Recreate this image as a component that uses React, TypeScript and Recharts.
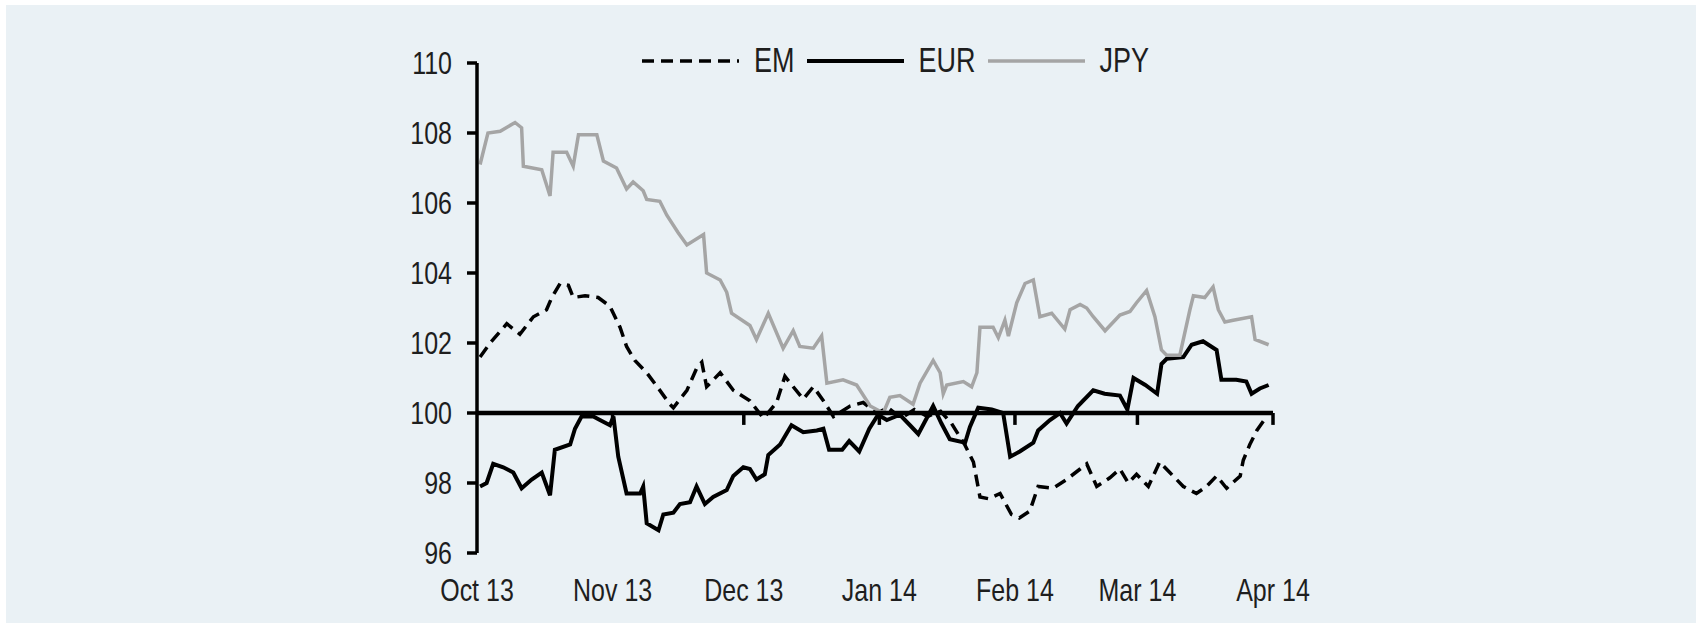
import { LineChart, Line, XAxis, YAxis, ReferenceLine } from 'recharts'

// days since 1 Oct 2013, index level
const jpyPoints: [number, number][] = [
  [0.7, 107.1], [2.5, 108.0], [5.3, 108.05], [8.7, 108.3], [10.2, 108.15], [10.6, 107.05],
  [14.8, 106.95], [16.7, 106.2], [17.4, 107.45], [20.5, 107.45], [22, 107.05], [23.2, 107.95],
  [27.4, 107.95], [28.9, 107.2], [31.9, 107.0], [34.2, 106.4], [35.7, 106.6], [38, 106.35],
  [38.8, 106.1], [41.8, 106.05], [43.4, 105.65], [46, 105.15], [48, 104.8], [51.8, 105.1],
  [52.5, 104.0], [55.6, 103.8], [57.1, 103.45], [58.2, 102.85], [62.4, 102.5], [63.9, 102.1],
  [66.6, 102.85], [70, 101.85], [72.3, 102.35], [73.8, 101.9], [76.9, 101.85], [78.8, 102.2],
  [80, 100.85], [83.7, 100.95], [86.8, 100.8], [89.9, 100.2], [92.9, 100.0], [94.4, 100.45],
  [96.7, 100.5], [99.7, 100.25], [101.3, 100.85], [104.3, 101.5], [105.9, 101.15], [106.6, 100.55],
  [107.4, 100.8], [111.2, 100.9], [113.1, 100.75], [114.3, 101.15], [115, 102.45], [118, 102.45],
  [119.2, 102.15], [120.7, 102.65], [121.5, 102.2], [123.4, 103.15], [125.3, 103.7], [127.2, 103.8],
  [128.7, 102.75], [131.4, 102.85], [134.4, 102.4], [135.6, 102.95], [137.9, 103.1], [139.4, 103.0],
  [140.9, 102.75], [143.6, 102.35], [147, 102.8], [149.3, 102.9], [150.8, 103.15], [153.1, 103.5],
  [155, 102.75], [156.5, 101.8], [157.7, 101.65], [160.7, 101.65], [163, 102.95], [163.8, 103.35],
  [166.4, 103.3], [168.3, 103.6], [169.5, 102.95], [171, 102.6], [172.9, 102.65], [177.1, 102.75],
  [177.9, 102.1], [181, 101.95],
]

const emPoints: [number, number][] = [
  [0.7, 101.6], [3, 102.0], [6.8, 102.55], [9.8, 102.25], [12.9, 102.75], [15.9, 102.95],
  [17.1, 103.3], [19, 103.7], [20.9, 103.65], [22, 103.3], [24.7, 103.35], [27.7, 103.3],
  [30.4, 103.05], [32.7, 102.45], [34.2, 101.9], [36.1, 101.5], [38.8, 101.15], [41.5, 100.7],
  [44.1, 100.25], [44.9, 100.15], [48, 100.65], [50.3, 101.3], [51.4, 101.45], [52.5, 100.75],
  [55.6, 101.15], [58.6, 100.65], [62.4, 100.35], [65.5, 99.85], [68.5, 100.3], [70.4, 101.05],
  [72.3, 100.75], [74.6, 100.4], [76.9, 100.75], [79.2, 100.35], [81.5, 99.9], [85.3, 100.2],
  [88.3, 100.3], [91.4, 100.0], [94, 100.15], [97, 99.85], [100, 100.1], [103, 99.9],
  [106, 100.05], [108.5, 99.7], [111.5, 99.1], [113.5, 98.6], [115, 97.6], [117, 97.55],
  [119.6, 97.7], [122.2, 97.1], [124, 97.0], [126.4, 97.2], [128.3, 97.9], [131.7, 97.85],
  [134.8, 98.1], [137.9, 98.4], [139.4, 98.55], [141.7, 97.9], [144.7, 98.15], [147, 98.4],
  [148.9, 98.0], [150.8, 98.25], [153.5, 97.9], [156.1, 98.6], [158.4, 98.3], [161.5, 97.9],
  [164.5, 97.7], [166.8, 97.9], [169.1, 98.2], [171.4, 97.85], [174.5, 98.2], [175.2, 98.65],
  [176.7, 99.1], [178.3, 99.5], [180, 99.8],
]

const eurPoints: [number, number][] = [
  [0.7, 97.9], [2.2, 98.0], [3.7, 98.55], [6, 98.45], [8.3, 98.3], [10.2, 97.85],
  [12.5, 98.1], [14.8, 98.3], [16.7, 97.65], [17.8, 98.95], [21.3, 99.1], [22.4, 99.55],
  [23.9, 99.9], [26.6, 99.9], [28.1, 99.8], [30.4, 99.65], [31.2, 99.9], [32.3, 98.75],
  [34.2, 97.7], [37.3, 97.7], [38, 97.9], [38.8, 96.85], [41.5, 96.65], [42.6, 97.1],
  [44.9, 97.15], [46.4, 97.4], [48.7, 97.45], [50.2, 97.9], [52.1, 97.4], [54, 97.6],
  [57.1, 97.8], [58.6, 98.2], [60.9, 98.45], [62.4, 98.4], [63.9, 98.1], [65.8, 98.25],
  [66.6, 98.8], [69.3, 99.1], [71.9, 99.65], [74.6, 99.45], [77.7, 99.5], [79.2, 99.55],
  [80.5, 98.95], [83.5, 98.95], [85.1, 99.2], [87.4, 98.9], [89.7, 99.55], [91.7, 99.95],
  [93.7, 99.8], [96.7, 99.95], [99, 99.65], [100.9, 99.4], [104.3, 100.2], [106.2, 99.7],
  [108.1, 99.25], [111.6, 99.15], [112.7, 99.6], [114.6, 100.15], [117.7, 100.1], [120.3, 100.0],
  [121.9, 98.75], [124.1, 98.9], [127.2, 99.15], [128.3, 99.5], [131, 99.8], [133.3, 100.0],
  [134.8, 99.7], [137.4, 100.2], [140.9, 100.65], [143.5, 100.55], [147, 100.5], [148.7, 100.1],
  [150.1, 101.0], [152.8, 100.8], [155.5, 100.55], [156.5, 101.4], [157.7, 101.55], [161.5, 101.6],
  [163.4, 101.95], [166, 102.05], [169.1, 101.8], [170.2, 100.95], [173.6, 100.95], [175.9, 100.9],
  [177.1, 100.55], [179, 100.7], [181, 100.8],
]

const monthTicks = [0, 31, 61, 92, 123, 151, 182]
const monthLabels = ['Oct 13', 'Nov 13', 'Dec 13', 'Jan 14', 'Feb 14', 'Mar 14', 'Apr 14']
const yTicks = [96, 98, 100, 102, 104, 106, 108, 110]

const toRows = (pts: [number, number][]) => pts.map(([day, v]) => ({ day, v }))

const series = [
  { name: 'EM', data: toRows(emPoints), stroke: '#000', width: 3.5, dash: '12 7' },
  { name: 'EUR', data: toRows(eurPoints), stroke: '#000', width: 4, dash: undefined },
  { name: 'JPY', data: toRows(jpyPoints), stroke: '#a5a5a5', width: 3.5, dash: undefined },
]

const FONT = "'Liberation Sans', Arial, sans-serif"

function XTick({ x, y, index }: any) {
  return (
    <g transform={`translate(${x},${y}) scale(1,1.22)`}>
      <text x={0} y={0} dy="0.71em" textAnchor="middle" fontSize={25} fontFamily={FONT} fill="#1e1e1e">
        {monthLabels[index]}
      </text>
    </g>
  )
}

function YTick({ x, y, payload }: any) {
  return (
    <g transform={`translate(${x},${y}) scale(1,1.22)`}>
      <text x={0} y={0} dy="0.36em" textAnchor="end" fontSize={25} fontFamily={FONT} fill="#1e1e1e">
        {payload.value}
      </text>
    </g>
  )
}

export default function App() {
  return (
    <div style={{ position: 'absolute', left: 0, top: 0, width: 1696, height: 623, background: '#fff' }}>
      <div style={{ position: 'absolute', left: 6, top: 5, width: 1690, height: 618, background: '#eaf1f5' }}>
        <LineChart width={1690} height={618} margin={{ top: 58, right: 423, left: 391, bottom: 30 }}>
          <XAxis
            type="number"
            dataKey="day"
            domain={[0, 182]}
            ticks={monthTicks}
            axisLine={false}
            tickLine={false}
            tickSize={0}
            tickMargin={26}
            height={40}
            tick={<XTick />}
            allowDuplicatedCategory={false}
          />
          <YAxis
            domain={[96, 110]}
            ticks={yTicks}
            width={80}
            axisLine={{ stroke: '#000', strokeWidth: 3.5 }}
            tickLine={{ stroke: '#000', strokeWidth: 3.5 }}
            tickSize={10}
            tickMargin={15}
            tick={<YTick />}
            allowDataOverflow
          />
          {series.map((s) => (
            <Line
              key={s.name}
              data={s.data}
              dataKey="v"
              name={s.name}
              type="linear"
              stroke={s.stroke}
              strokeWidth={s.width}
              strokeDasharray={s.dash}
              dot={false}
              activeDot={false}
              isAnimationActive={false}
            />
          ))}
          <ReferenceLine y={100} stroke="#000" strokeWidth={4.5} />
          {monthTicks.slice(1).map((d) => (
            <ReferenceLine
              key={d}
              segment={[{ x: d, y: 100 }, { x: d, y: 99.66 }]}
              stroke="#000"
              strokeWidth={3.5}
            />
          ))}
        </LineChart>
        <div
          style={{
            position: 'absolute',
            left: 636,
            top: 36,
            height: 40,
            display: 'flex',
            alignItems: 'center',
            fontFamily: FONT,
            fontSize: 27,
            color: '#1e1e1e',
          }}
        >
          {series.map((s) => (
            <div key={s.name} style={{ display: 'flex', alignItems: 'center', marginRight: 12 }}>
              <svg width={97} height={12}>
                <line x1={0} y1={6} x2={97} y2={6} stroke={s.stroke} strokeWidth={s.width} strokeDasharray={s.dash} />
              </svg>
              <span style={{ marginLeft: 15, display: 'inline-block', transform: 'scaleY(1.28)' }}>{s.name}</span>
            </div>
          ))}
        </div>
      </div>
    </div>
  )
}
